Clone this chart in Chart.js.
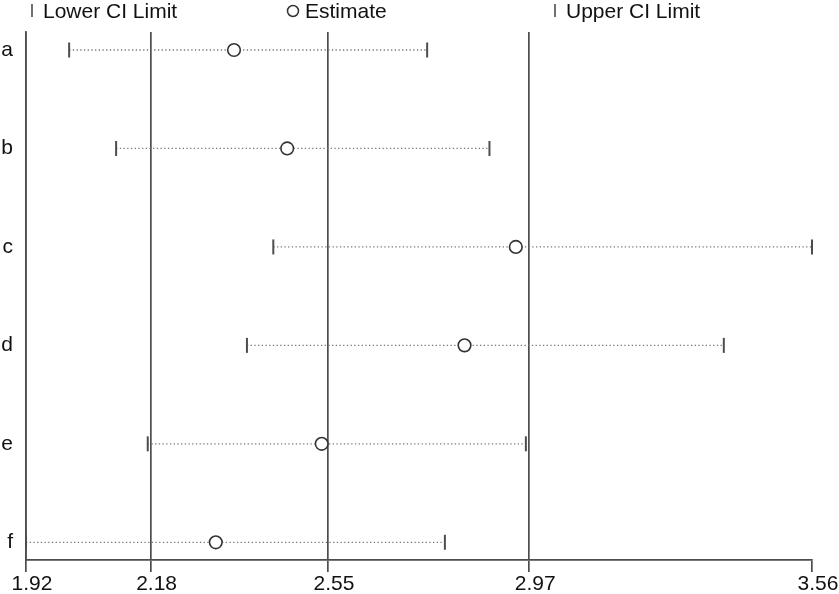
<!DOCTYPE html>
<html>
<head>
<meta charset="utf-8">
<script src="https://cdn.jsdelivr.net/npm/chart.js@4"></script>
<style>
html, body { margin: 0; padding: 0; background: #fff; }
</style>
</head>
<body>
<canvas id="myChart" width="839" height="594"></canvas>
<script>
// rows of the plot, top to bottom
const rows = ['a', 'b', 'c', 'd', 'e', 'f'];
const lowerCI = [2.010, 2.108, 2.436, 2.381, 2.174, 1.920];
const estimate = [2.354, 2.465, 2.942, 2.835, 2.537, 2.316];
const upperCI = [2.757, 2.887, 3.560, 3.376, 2.963, 2.794];
const xTicks = [1.92, 2.18, 2.55, 2.97, 3.56];

const font = { family: '"Liberation Sans", Arial, sans-serif', size: 21 };
const lineColor = '#4d4d4d';

// legend is drawn by hand so the three entries sit where the original has them
const legendItems = [
    { text: 'Lower CI Limit', mark: 'bar', x: 32 },
    { text: 'Estimate', mark: 'circle', x: 293 },
    { text: 'Upper CI Limit', mark: 'bar', x: 555 }
];
const topLegend = {
    id: 'topLegend',
    afterDraw(chart) {
        const c = chart.ctx;
        c.save();
        c.font = font.size + 'px ' + font.family;
        c.fillStyle = '#111';
        c.textBaseline = 'alphabetic';
        legendItems.forEach(it => {
            c.beginPath();
            if (it.mark === 'bar') {
                c.strokeStyle = lineColor;
                c.lineWidth = 1.6;
                c.moveTo(it.x, 4);
                c.lineTo(it.x, 17);
                c.stroke();
                c.fillText(it.text, it.x + 11, 18);
            } else {
                c.strokeStyle = '#333';
                c.lineWidth = 1.5;
                c.arc(it.x, 11, 5.5, 0, Math.PI * 2);
                c.stroke();
                c.fillText(it.text, it.x + 12, 18);
            }
        });
        c.restore();
    }
};

// one dotted line per row, from lower to upper limit
const ciLines = rows.map((r, i) => ({
    type: 'line',
    label: 'CI ' + r,
    data: [{ x: lowerCI[i], y: i }, { x: upperCI[i], y: i }],
    borderColor: '#777',
    borderWidth: 1.3,
    borderDash: [1.3, 2.4],
    pointRadius: 0,
    fill: false,
    order: 2
}));

const toPoints = vals => rows.map((r, i) => ({ x: vals[i], y: i }));

let ctx = document.getElementById('myChart').getContext('2d');
let myChart = new Chart(ctx, {
    type: 'scatter',
    data: {
        datasets: [
            ...ciLines,
            {
                label: 'Lower CI Limit',
                data: toPoints(lowerCI),
                pointStyle: 'line',
                pointRotation: 90,
                pointRadius: 7.5,
                pointBorderColor: lineColor,
                pointBorderWidth: 2,
                clip: false,
                order: 1
            },
            {
                label: 'Upper CI Limit',
                data: toPoints(upperCI),
                pointStyle: 'line',
                pointRotation: 90,
                pointRadius: 7.5,
                pointBorderColor: lineColor,
                pointBorderWidth: 2,
                clip: false,
                order: 1
            },
            {
                label: 'Estimate',
                data: toPoints(estimate),
                pointStyle: 'circle',
                pointRadius: 6.3,
                pointBorderColor: '#333',
                pointBorderWidth: 1.6,
                pointBackgroundColor: '#fff',
                clip: false,
                order: 0
            }
        ]
    },
    options: {
        responsive: false,
        animation: false,
        layout: { padding: { top: 32, right: 27, left: 0, bottom: 0 } },
        plugins: {
            legend: { display: false },
            tooltip: { enabled: false }
        },
        scales: {
            x: {
                type: 'linear',
                min: 1.92,
                max: 3.56,
                afterBuildTicks: s => { s.ticks = xTicks.map(v => ({ value: v })); },
                afterFit: s => { s.height = 34; },
                ticks: {
                    callback: v => v.toFixed(2),
                    font: font,
                    color: '#111',
                    padding: 0,
                    labelOffset: 6,
                    maxRotation: 0,
                    autoSkip: false
                },
                grid: {
                    color: c => c.index === xTicks.length - 1 ? 'rgba(0,0,0,0)' : lineColor,
                    tickColor: lineColor,
                    lineWidth: 1.7,
                    tickLength: 12
                },
                border: { color: lineColor, width: 1.7 }
            },
            y: {
                type: 'linear',
                min: -0.183,
                max: 5.18,
                reverse: true,
                afterBuildTicks: s => { s.ticks = rows.map((r, i) => ({ value: i })); },
                afterFit: s => { s.width = 26; },
                ticks: {
                    callback: v => rows[v],
                    font: font,
                    color: '#111',
                    padding: 13
                },
                grid: { display: false, drawTicks: false },
                border: { color: lineColor, width: 1.7 }
            }
        }
    },
    plugins: [topLegend]
});
</script>
</body>
</html>
